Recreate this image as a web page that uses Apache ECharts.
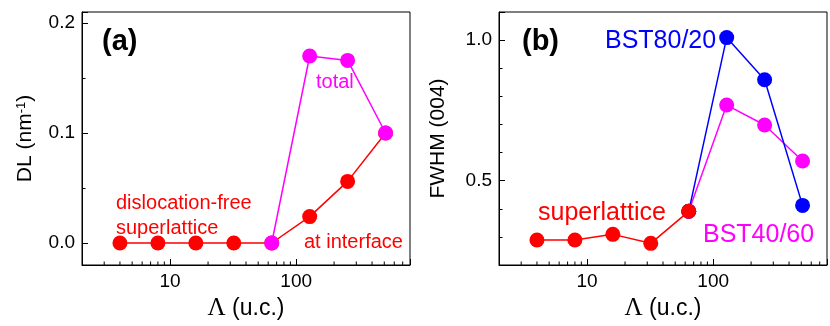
<!DOCTYPE html>
<html>
<head>
<meta charset="utf-8">
<script src="https://cdn.jsdelivr.net/npm/echarts@6/dist/echarts.min.js"></script>
<style>html,body{margin:0;padding:0;background:#fff}#c{width:830px;height:326px}</style>
</head>
<body>
<div id="c"></div>
<script>
// ---- data ----
var lambdaUC = [4, 8, 16, 32, 64, 128, 256, 512];
// panel (a): dislocation line density (nm^-1)
var dlInterface = [0, 0, 0, 0, 0, 0.024, 0.056, 0.100];
var dlTotalX = [64, 128, 256, 512];
var dlTotal = [0, 0.170, 0.166, 0.100];
// panel (b): FWHM (004)
var fwSuperX = [4, 8, 16, 32, 64];
var fwSuper = [0.289, 0.289, 0.309, 0.277, 0.391];
var fwBstX = [64, 128, 256, 512];
var fwBst8020 = [0.391, 1.009, 0.859, 0.412];
var fwBst4060 = [0.391, 0.769, 0.698, 0.570];
// log-axis minor tick values
var xMinorTicks = [3, 4, 5, 6, 7, 8, 9, 20, 30, 40, 50, 60, 70, 80, 90, 200, 300, 400, 500, 600, 700];

var FONT = "'Liberation Sans', Arial, Helvetica, sans-serif";
var RED = '#ff0000', MAG = '#ff00ff', BLUE = '#0000ff';

function zip(xs, ys) { return xs.map(function (x, i) { return [x, ys[i]]; }); }

var chart = echarts.init(document.getElementById('c'), null, {renderer: 'canvas'});

function xAx(gi) {
  return {
    type: 'log', gridIndex: gi, min: 2, max: 800, logBase: 10,
    name: '{l|\u039B} (u.c.)', nameLocation: 'middle', nameGap: 31,
    nameTextStyle: {fontFamily: FONT, fontSize: 23, color: '#000',
      rich: {l: {fontFamily: "'Liberation Serif', 'Times New Roman', serif", fontSize: 25, color: '#000'}}},
    axisLine: {show: true, onZero: false, lineStyle: {color: '#000', width: 1}},
    axisTick: {show: true, inside: true, length: 6, lineStyle: {color: '#000'}},
    splitLine: {show: false},
    axisLabel: {fontFamily: FONT, fontSize: 19, color: '#000', margin: 7,
      formatter: function (v) {
        var l = Math.log10(v);
        return (Math.abs(l - Math.round(l)) < 1e-6 && (Math.round(l) === 1 || Math.round(l) === 2)) ? String(Math.round(v)) : '';
      }}
  };
}

function yMajor(gi, min, max, name, gap, step, rich) {
  return {
    type: 'value', gridIndex: gi, min: min, max: max, splitNumber: 2, position: 'left',
    name: name, nameLocation: 'middle', nameGap: gap,
    nameTextStyle: {fontFamily: FONT, fontSize: 21, color: '#000', rich: rich || {}},
    axisLine: {show: true, onZero: false, lineStyle: {color: '#000', width: 1}},
    axisTick: {show: true, inside: true, length: 6, lineStyle: {color: '#000'}},
    splitLine: {show: false},
    axisLabel: {fontFamily: FONT, fontSize: 19, color: '#000', margin: 7,
      formatter: function (v) {
        var k = v / step;
        return Math.abs(k - Math.round(k)) < 1e-6 ? v.toFixed(1) : '';
      }}
  };
}
function yMinor(gi, min, max, split) {
  return {
    type: 'value', gridIndex: gi, min: min, max: max, splitNumber: split, position: 'left', offset: 0,
    axisLine: {show: false}, axisLabel: {show: false}, splitLine: {show: false},
    axisTick: {show: true, inside: true, length: 3.5, lineStyle: {color: '#000'}}
  };
}

function minorTickSeries(xi, yi, ymin) {
  return {
    type: 'custom', xAxisIndex: xi, yAxisIndex: yi, silent: true, z: 1,
    data: xMinorTicks.map(function (v) { return [v, ymin]; }),
    encode: {x: 0, y: 1},
    renderItem: function (params, api) {
      var p = api.coord([api.value(0), api.value(1)]);
      return {type: 'line', shape: {x1: p[0], y1: p[1], x2: p[0], y2: p[1] - 3.5},
        style: {stroke: '#000', lineWidth: 1}};
    }
  };
}

function lineSeries(xi, yi, data, color, z) {
  return {
    type: 'line', xAxisIndex: xi, yAxisIndex: yi, data: data, z: z,
    symbol: 'circle', symbolSize: 15, showSymbol: true,
    lineStyle: {color: color, width: 1.5}, itemStyle: {color: color},
    animation: false
  };
}

var option = {
  animation: false,
  backgroundColor: '#fff',
  grid: [
    {left: 82, top: 12, width: 328, height: 255, show: true, borderColor: '#000', borderWidth: 1, backgroundColor: 'transparent'},
    {left: 499, top: 12, width: 328, height: 255, show: true, borderColor: '#000', borderWidth: 1, backgroundColor: 'transparent'}
  ],
  xAxis: [xAx(0), xAx(1)],
  yAxis: [
    yMajor(0, -0.02, 0.21, 'DL (nm{sup|-1})', 46, 0.1, {sup: {fontFamily: FONT, fontSize: 13, color: '#000', verticalAlign: 'top', lineHeight: 12, padding: [0, 0, 10, 0]}}),
    yMinor(0, -0.02, 0.21, 5),
    yMajor(1, 0.2, 1.1, 'FWHM (004)', 50, 0.5),
    yMinor(1, 0.2, 1.1, 9)
  ],
  series: [
    minorTickSeries(0, 0, -0.02),
    minorTickSeries(1, 2, 0.2),
    lineSeries(0, 0, zip(lambdaUC, dlInterface), RED, 3),
    lineSeries(0, 0, zip(dlTotalX, dlTotal), MAG, 4),
    lineSeries(1, 2, zip(fwBstX, fwBst4060), MAG, 3),
    lineSeries(1, 2, zip(fwBstX, fwBst8020), BLUE, 4),
    lineSeries(1, 2, zip(fwSuperX, fwSuper), RED, 5)
  ],
  graphic: [
    {type: 'text', left: 102, top: 27, style: {text: '(a)', font: 'bold 29px ' + FONT, fill: '#000'}},
    {type: 'text', left: 522, top: 27, style: {text: '(b)', font: 'bold 29px ' + FONT, fill: '#000'}},
    {type: 'text', left: 316, top: 72, style: {text: 'total', font: '20px ' + FONT, fill: MAG}},
    {type: 'text', left: 116, top: 193, style: {text: 'dislocation-free', font: '20px ' + FONT, fill: RED}},
    {type: 'text', left: 116, top: 218, style: {text: 'superlattice', font: '20px ' + FONT, fill: RED}},
    {type: 'text', left: 304, top: 232, style: {text: 'at interface', font: '20px ' + FONT, fill: RED}},
    {type: 'text', left: 605, top: 29, style: {text: 'BST80/20', font: '25px ' + FONT, fill: BLUE}},
    {type: 'text', left: 703, top: 223, style: {text: 'BST40/60', font: '25px ' + FONT, fill: MAG}},
    {type: 'text', left: 538, top: 201, style: {text: 'superlattice', font: '25px ' + FONT, fill: RED}}
  ]
};
chart.setOption(option);
</script>
</body>
</html>
